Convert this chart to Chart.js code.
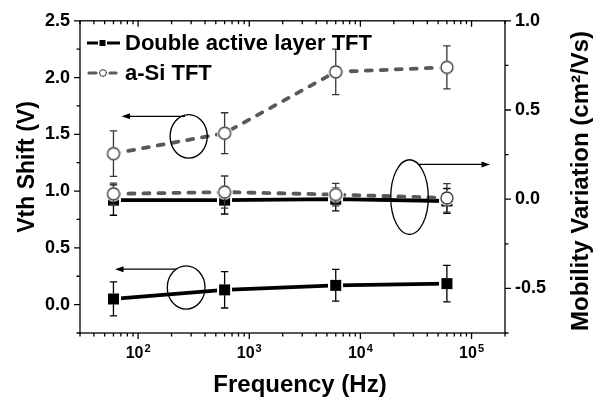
<!DOCTYPE html>
<html><head><meta charset="utf-8">
<script src="https://cdn.jsdelivr.net/npm/chart.js@4/dist/chart.umd.min.js"></script>
<style>html,body{margin:0;padding:0;background:#fff;overflow:hidden}canvas{display:block}</style>
</head><body>
<canvas id="c" width="599" height="401"></canvas>
<script>
// ---------------- data ----------------
const freqHz = [60, 600, 6000, 60000];
const doubleVth = [0.05, 0.13, 0.17, 0.185];
const doubleVthErr = [0.15, 0.16, 0.14, 0.16];
const asiVth = [1.33, 1.51, 2.05, 2.09];
const asiVthErr = [0.20, 0.18, 0.20, 0.19];
const doubleMob = [-0.005, -0.005, 0.0, -0.01];
const doubleMobErr = [0.085, 0.078, 0.065, 0.07];
const asiMob = [0.03, 0.04, 0.026, 0.007];
const asiMobErr = [0.06, 0.09, 0.063, 0.08];
const seriesNames = ['Double active layer TFT', 'a-Si TFT'];
const xTitle = 'Frequency (Hz)';
const yTitle = 'Vth Shift (V)';
const y2Title = 'Mobility Variation (cm\u00B2/Vs)';
const xTickValues = [100, 1000, 10000, 100000];
const xTickBase = ['10', '10', '10', '10'];
const xTickExp = ['2', '3', '4', '5'];
const leftTicks = [-0.25, 0, 0.25, 0.5, 0.75, 1.0, 1.25, 1.5, 1.75, 2.0, 2.25, 2.5];
const leftMajor = [0, 0.5, 1.0, 1.5, 2.0, 2.5];
const leftLabels = ['0.0', '0.5', '1.0', '1.5', '2.0', '2.5'];
const rightTicks = [-0.75, -0.5, -0.25, 0, 0.25, 0.5, 0.75, 1.0];
const rightMajor = [-0.5, 0, 0.5, 1.0];
const rightLabels = ['-0.5', '0.0', '0.5', '1.0'];
// annotation shapes (data coordinates): ellipses and arrows
const ellipses = [
  {axis: 'y',  x0: 194, x1: 419, y0: 1.29, y1: 1.674},
  {axis: 'y',  x0: 183, x1: 400, y0: -0.039, y1: 0.341},
  {axis: 'y2', x0: 18750, x1: 40830, y0: -0.198, y1: 0.221}
];
const arrows = [
  {axis: 'y',  from: 264, to: 71, y: 1.659},
  {axis: 'y',  from: 222, to: 62, y: 0.312},
  {axis: 'y2', from: 33200, to: 146600, y: 0.195}
];

// ---------------- styles ----------------
const FONT = "'Liberation Sans', Arial, Helvetica, sans-serif";
const BLACK = '#000000';
const GRAY_LINE = '#595959';
const GRAY_MARK = '#363636';

function makeSquare(side, halo, color) {
  const s = Math.round(side + 2 * halo);
  const c = document.createElement('canvas');
  c.width = s; c.height = s;
  const g = c.getContext('2d');
  g.fillStyle = '#fff'; g.fillRect(0, 0, s, s);
  g.fillStyle = color; g.fillRect(halo, halo, side, side);
  return c;
}
function makeCircle(r, halo, color, lw) {
  const s = Math.ceil(2 * (r + lw / 2 + halo));
  const c = document.createElement('canvas');
  c.width = s; c.height = s;
  const g = c.getContext('2d');
  const m = s / 2;
  g.fillStyle = '#fff';
  g.beginPath(); g.arc(m, m, r + lw / 2 + halo, 0, Math.PI * 2); g.fill();
  g.beginPath(); g.arc(m, m, r, 0, Math.PI * 2);
  g.fillStyle = '#fff'; g.fill();
  g.lineWidth = lw; g.strokeStyle = color; g.stroke();
  return c;
}
const squareMark = makeSquare(11, 2, BLACK);
const circleMark = makeCircle(6, 1.2, GRAY_MARK, 1.3);

function pts(ys) { return freqHz.map((f, i) => ({x: f, y: ys[i]})); }

const errInfo = [
  {err: doubleVthErr, half: 5.5, color: BLACK},
  {err: doubleMobErr, half: 5.5, color: BLACK},
  {err: asiVthErr, half: 6.6, color: GRAY_MARK},
  {err: asiMobErr, half: 6.6, color: GRAY_MARK}
];

const solidStyle = {borderColor: BLACK, borderWidth: 3.8, pointStyle: squareMark, pointRadius: 6, showLine: true, tension: 0};
const dashStyle = {borderColor: GRAY_LINE, borderWidth: 3.8, borderDash: [6, 9], borderCapStyle: 'round', pointStyle: circleMark, pointRadius: 6, showLine: true, tension: 0};

const datasets = [
  Object.assign({label: seriesNames[0], data: pts(doubleVth), yAxisID: 'y', order: 1}, solidStyle),
  Object.assign({label: seriesNames[0] + ' (mobility)', data: pts(doubleMob), yAxisID: 'y2', order: 1}, solidStyle),
  Object.assign({label: seriesNames[1], data: pts(asiVth), yAxisID: 'y', order: 0}, dashStyle),
  Object.assign({label: seriesNames[1] + ' (mobility)', data: pts(asiMob), yAxisID: 'y2', order: 0}, dashStyle)
];

// ---------------- plugins ----------------
const errorBars = {
  id: 'errorBars',
  afterDatasetDraw(chart, args) {
    const info = errInfo[args.index];
    if (!info) return;
    const ds = chart.data.datasets[args.index];
    const ys = chart.scales[ds.yAxisID];
    const ctx = chart.ctx;
    ctx.save();
    ctx.strokeStyle = info.color; ctx.lineWidth = 1.3;
    args.meta.data.forEach((p, i) => {
      const v = ds.data[i].y, e = info.err[i];
      const yt = ys.getPixelForValue(v + e), yb = ys.getPixelForValue(v - e);
      const x = p.x, yc = p.y;
      ctx.beginPath();
      if (yc - yt > info.half) { ctx.moveTo(x, yc - info.half); ctx.lineTo(x, yt); }
      if (yb - yc > info.half) { ctx.moveTo(x, yc + info.half); ctx.lineTo(x, yb); }
      ctx.moveTo(x - 3.7, yt); ctx.lineTo(x + 3.7, yt);
      ctx.moveTo(x - 3.7, yb); ctx.lineTo(x + 3.7, yb);
      ctx.stroke();
    });
    ctx.restore();
  }
};

const frame = {
  id: 'frame',
  afterDraw(chart) {
    const ctx = chart.ctx;
    const {left, right, top, bottom} = chart.chartArea;
    const xs = chart.scales.x, yl = chart.scales.y, yr = chart.scales.y2;
    ctx.save();
    ctx.strokeStyle = BLACK; ctx.lineWidth = 1.3;
    ctx.strokeRect(left, top, right - left, bottom - top);
    ctx.beginPath();
    // x ticks (bottom outward, top inward)
    for (let d = 1; d <= 5; d++) {
      for (let m = 1; m <= 9; m++) {
        const v = m * Math.pow(10, d);
        if (v < 30 || v > 200000) continue;
        const px = xs.getPixelForValue(v);
        const len = m === 1 ? 6 : 3.5;
        ctx.moveTo(px, bottom); ctx.lineTo(px, bottom + len);
        ctx.moveTo(px, top); ctx.lineTo(px, top + len);
      }
    }
    leftTicks.forEach(v => {
      const py = yl.getPixelForValue(v);
      const len = leftMajor.includes(v) ? 6 : 3.5;
      ctx.moveTo(left, py); ctx.lineTo(left - len, py);
    });
    rightTicks.forEach(v => {
      const py = yr.getPixelForValue(v);
      const len = rightMajor.includes(v) ? 6 : 3.5;
      ctx.moveTo(right, py); ctx.lineTo(right + len, py);
    });
    ctx.stroke();

    // x tick labels with superscript exponent
    ctx.fillStyle = BLACK;
    ctx.textBaseline = 'alphabetic';
    xTickValues.forEach((v, i) => {
      const px = xs.getPixelForValue(v);
      ctx.font = 'bold 16px ' + FONT;
      const wb = ctx.measureText(xTickBase[i]).width;
      ctx.font = 'bold 11px ' + FONT;
      const we = ctx.measureText(xTickExp[i]).width;
      const x0 = px - (wb + we + 1) / 2;
      ctx.font = 'bold 16px ' + FONT;
      ctx.textAlign = 'left';
      ctx.fillText(xTickBase[i], x0, bottom + 24.5);
      ctx.font = 'bold 11px ' + FONT;
      ctx.fillText(xTickExp[i], x0 + wb + 1, bottom + 19);
    });

    // axis titles
    ctx.font = 'bold 24px ' + FONT;
    ctx.textAlign = 'center';
    ctx.fillText(xTitle, 300, 392);
    ctx.save();
    ctx.font = 'bold 23px ' + FONT;
    ctx.translate(34, 167); ctx.rotate(-Math.PI / 2);
    ctx.fillText(yTitle, 0, 0);
    ctx.restore();
    ctx.save();
    ctx.font = 'bold 24px ' + FONT;
    ctx.translate(588, 181); ctx.rotate(-Math.PI / 2);
    ctx.fillText(y2Title, 0, 0);
    ctx.restore();

    // annotations
    ctx.lineWidth = 1.3; ctx.strokeStyle = BLACK; ctx.fillStyle = BLACK;
    ellipses.forEach(e => {
      const ys = chart.scales[e.axis];
      const x0 = xs.getPixelForValue(e.x0), x1 = xs.getPixelForValue(e.x1);
      const y0 = ys.getPixelForValue(e.y0), y1 = ys.getPixelForValue(e.y1);
      ctx.beginPath();
      ctx.ellipse((x0 + x1) / 2, (y0 + y1) / 2, Math.abs(x1 - x0) / 2, Math.abs(y1 - y0) / 2, 0, 0, Math.PI * 2);
      ctx.stroke();
    });
    arrows.forEach(a => {
      const ys = chart.scales[a.axis];
      const xa = xs.getPixelForValue(a.from), xb = xs.getPixelForValue(a.to);
      const py = ys.getPixelForValue(a.y);
      const dir = xb > xa ? 1 : -1;
      ctx.beginPath(); ctx.moveTo(xa, py); ctx.lineTo(xb - dir * 6, py); ctx.stroke();
      ctx.beginPath(); ctx.moveTo(xb, py); ctx.lineTo(xb - dir * 8.5, py - 3); ctx.lineTo(xb - dir * 8.5, py + 3); ctx.closePath(); ctx.fill();
    });

    // legend
    const rows = [
      {ds: chart.data.datasets[0], y: 43, base: 50},
      {ds: chart.data.datasets[2], y: 73, base: 80}
    ];
    rows.forEach((r, i) => {
      ctx.save();
      ctx.strokeStyle = r.ds.borderColor;
      ctx.lineWidth = i === 0 ? 3 : 3.2;
      ctx.lineCap = i === 0 ? 'butt' : 'round';
      ctx.beginPath();
      if (i === 0) { ctx.moveTo(87, r.y); ctx.lineTo(120, r.y); }
      else { ctx.moveTo(89, r.y); ctx.lineTo(96, r.y); ctx.moveTo(110, r.y); ctx.lineTo(116, r.y); }
      ctx.stroke();
      if (i === 0) {
        ctx.fillStyle = '#fff'; ctx.fillRect(98, r.y - 4.5, 9, 9);
        ctx.fillStyle = BLACK; ctx.fillRect(99.5, r.y - 3, 6, 6);
      } else {
        ctx.beginPath(); ctx.arc(103, r.y, 3.4, 0, Math.PI * 2);
        ctx.fillStyle = '#fff'; ctx.fill();
        ctx.lineWidth = 1; ctx.strokeStyle = GRAY_MARK; ctx.stroke();
      }
      ctx.restore();
      ctx.font = 'bold 22px ' + FONT;
      ctx.textAlign = 'left';
      ctx.fillStyle = BLACK;
      ctx.fillText(seriesNames[i], 125, r.base);
    });
    ctx.restore();
  }
};

Chart.defaults.font.family = FONT;
Chart.defaults.color = BLACK;

new Chart(document.getElementById('c'), {
  type: 'scatter',
  data: {datasets},
  options: {
    responsive: false,
    animation: false,
    layout: {padding: {top: 20, left: 0, right: 0, bottom: 0}},
    plugins: {legend: {display: false}, tooltip: {enabled: false}},
    scales: {
      x: {
        type: 'logarithmic', min: 30, max: 200000,
        grid: {display: false, drawTicks: false, tickLength: 0},
        border: {display: false},
        ticks: {display: false},
        afterFit(s) { s.height = 68; }
      },
      y: {
        position: 'left', min: -0.25, max: 2.5,
        grid: {display: false, drawTicks: false, tickLength: 0},
        border: {display: false},
        afterBuildTicks(s) { s.ticks = leftTicks.map(v => ({value: v})); },
        ticks: {
          autoSkip: false, padding: 10,
          font: {size: 18, weight: 'bold'}, color: BLACK,
          callback(v) { const k = leftMajor.indexOf(v); return k >= 0 ? leftLabels[k] : ''; }
        },
        afterFit(s) { s.width = 80; }
      },
      y2: {
        position: 'right', min: -0.75, max: 1.0,
        grid: {display: false, drawTicks: false, tickLength: 0},
        border: {display: false},
        afterBuildTicks(s) { s.ticks = rightTicks.map(v => ({value: v})); },
        ticks: {
          autoSkip: false, padding: 10,
          font: {size: 18, weight: 'bold'}, color: BLACK,
          callback(v) { const k = rightMajor.indexOf(v); return k >= 0 ? rightLabels[k] : ''; }
        },
        afterFit(s) { s.width = 94; }
      }
    }
  },
  plugins: [errorBars, frame]
});
</script>
</body></html>
